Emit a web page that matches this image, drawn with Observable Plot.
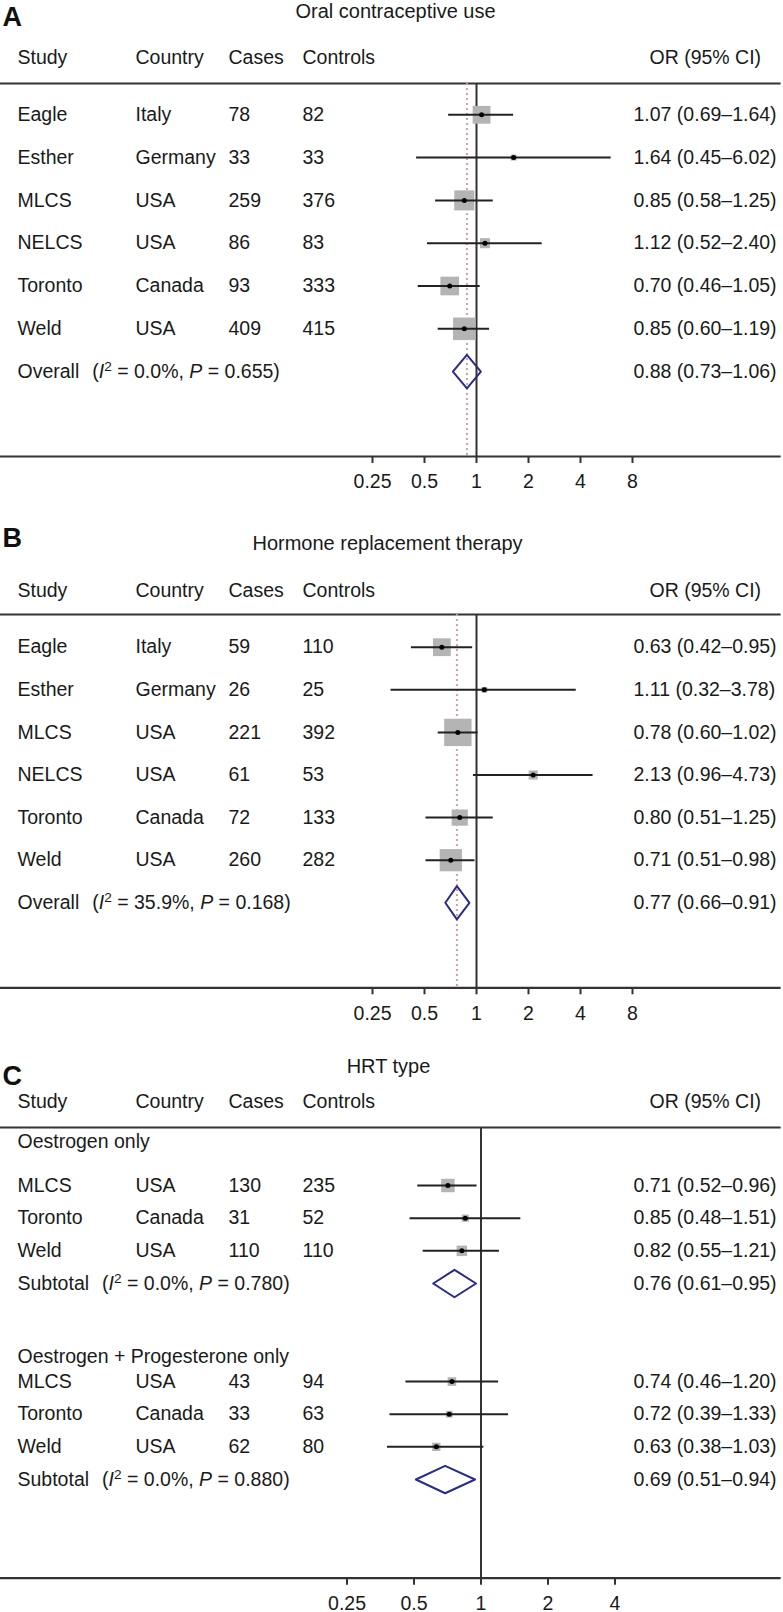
<!DOCTYPE html>
<html><head><meta charset="utf-8">
<script src="https://cdn.jsdelivr.net/npm/d3@7"></script>
<script src="https://cdn.jsdelivr.net/npm/@observablehq/plot@0.6"></script>
<style>
html,body{margin:0;padding:0;background:#fff;overflow:hidden;}
#chart svg{display:block;}
</style></head><body><div id="chart"></div>
<script>
// ---------- data ----------
const studies = ["Eagle", "Esther", "MLCS", "NELCS", "Toronto", "Weld"];
const countries = ["Italy", "Germany", "USA", "USA", "Canada", "USA"];

// A: Oral contraceptive use
const ocCases = [78, 33, 259, 86, 93, 409];
const ocControls = [82, 33, 376, 83, 333, 415];
const ocOR = [1.07, 1.64, 0.85, 1.12, 0.70, 0.85];
const ocLo = [0.69, 0.45, 0.58, 0.52, 0.46, 0.60];
const ocHi = [1.64, 6.02, 1.25, 2.40, 1.05, 1.19];
const ocPooled = [0.88, 0.73, 1.06];
const ocHet = ["0.0%", "0.655"];

// B: Hormone replacement therapy
const hrtCases = [59, 26, 221, 61, 72, 260];
const hrtControls = [110, 25, 392, 53, 133, 282];
const hrtOR = [0.63, 1.11, 0.78, 2.13, 0.80, 0.71];
const hrtLo = [0.42, 0.32, 0.60, 0.96, 0.51, 0.51];
const hrtHi = [0.95, 3.78, 1.02, 4.73, 1.25, 0.98];
const hrtPooled = [0.77, 0.66, 0.91];
const hrtHet = ["35.9%", "0.168"];

// C: HRT type
const typeGroups = ["Oestrogen only", "Oestrogen + Progesterone only"];
const typeStudies = ["MLCS", "Toronto", "Weld"];
const typeCountries = ["USA", "Canada", "USA"];
const eoCases = [130, 31, 110];
const eoControls = [235, 52, 110];
const eoOR = [0.71, 0.85, 0.82];
const eoLo = [0.52, 0.48, 0.55];
const eoHi = [0.96, 1.51, 1.21];
const eoPooled = [0.76, 0.61, 0.95];
const eoHet = ["0.0%", "0.780"];
const epCases = [43, 33, 62];
const epControls = [94, 63, 80];
const epOR = [0.74, 0.72, 0.63];
const epLo = [0.46, 0.39, 0.38];
const epHi = [1.20, 1.33, 1.03];
const epPooled = [0.69, 0.51, 0.94];
const epHet = ["0.0%", "0.880"];

const ticksAB = [0.25, 0.5, 1, 2, 4, 8];
const ticksC = [0.25, 0.5, 1, 2, 4];

// ---------- styling ----------
const LINE = "#333", TEXT = "#1a1a1a", BOX = "#b4b4b4", DOTC = "#c9a1a9", NAVY = "#2c2c80";
const FONT = "'Liberation Sans', Arial, Helvetica, sans-serif";
const COL = {study: 17, country: 135, cases: 228, controls: 302, or: 633, orHead: 649};
const Z = 1.959964;

function studyRows(names, ctry, cases, controls, or, lo, hi, start) {
  return names.map((s, i) => ({
    row: start + i, label: s, country: ctry[i], cases: String(cases[i]), controls: String(controls[i]),
    or: or[i], lo: lo[i], hi: hi[i],
    w: 1 / ((Math.log(hi[i]) - Math.log(lo[i])) / (2 * Z)) ** 2
  }));
}
function pooledRow(name, est, het, row) {
  return {row, name, or: est[0], lo: est[1], hi: est[2], i2: het[0], p: het[1],
          label: `${name}  (I2 = ${het[0]}, P = ${het[1]})`};
}
const fmt = d => `${d.or.toFixed(2)} (${d.lo.toFixed(2)}–${d.hi.toFixed(2)})`;

function enrich(svg, pooled) {
  d3.select(svg).selectAll("text").each(function () {
    const t = this.textContent;
    const r = pooled.find(p => p.label === t);
    if (!r) return;
    const s = d3.select(this);
    s.text(null);
    s.append("tspan").text(r.name);
    s.append("tspan").attr("dx", 13).text("(");
    s.append("tspan").attr("font-style", "italic").text("I");
    s.append("tspan").attr("dy", -7).attr("font-size", "70%").text("2");
    s.append("tspan").attr("dy", 7).text(` = ${r.i2}, `);
    s.append("tspan").attr("font-style", "italic").text("P");
    s.append("tspan").text(` = ${r.p})`);
  });
}

function panel(o) {
  const d0 = o.ticks[0], d1 = o.ticks[o.ticks.length - 1];
  const xrange = [o.onePx + Math.log2(d0) * o.dbl, o.onePx + Math.log2(d1) * o.dbl];
  const all = [...o.studies, ...o.pooled];
  const diamonds = o.pooled.flatMap((p, i) => [
    {id: i, x: p.lo, y: p.row}, {id: i, x: p.or, y: p.row - o.dh}, {id: i, x: p.hi, y: p.row},
    {id: i, x: p.or, y: p.row + o.dh}, {id: i, x: p.lo, y: p.row}]);
  const left = (data, text, dx) => Plot.text(data, {y: "row", text, frameAnchor: "left", dx, textAnchor: "start", lineAnchor: "middle", fill: TEXT});
  const head = (t, dx) => Plot.text([t], {text: d => d, frameAnchor: "top-left", dx, dy: o.headerDy, textAnchor: "start", lineAnchor: "middle", fill: TEXT});
  const marks = [
    Plot.frame({anchor: "top", stroke: LINE, strokeWidth: 2.2}),
    Plot.frame({anchor: "bottom", stroke: LINE, strokeWidth: 2.2}),
    ...(o.pooledLine != null ? [Plot.ruleX([o.pooledLine], {stroke: DOTC, strokeWidth: 2, strokeDasharray: "2,3"})] : []),
    Plot.ruleX([1], {stroke: LINE, strokeWidth: 2}),
    Plot.axisX({ticks: o.ticks, tickFormat: d => String(d), tickSize: 7, tickPadding: 11, stroke: LINE, strokeWidth: 2, fill: TEXT, label: null}),
    Plot.dot(o.studies, {x: "or", y: "row", r: "w", symbol: "square", fill: BOX}),
    Plot.ruleY(o.studies, {y: "row", x1: "lo", x2: "hi", stroke: "#222", strokeWidth: 2}),
    Plot.dot(o.studies, {x: "or", y: "row", r: 2.5, fill: "#000"}),
    Plot.line(diamonds, {x: "x", y: "y", z: "id", stroke: NAVY, strokeWidth: 2}),
    left([...o.groups, ...all], "label", COL.study),
    left(o.studies, "country", COL.country),
    left(o.studies, "cases", COL.cases),
    left(o.studies, "controls", COL.controls),
    left(all, fmt, COL.or),
    head("Study", COL.study), head("Country", COL.country), head("Cases", COL.cases),
    head("Controls", COL.controls), head("OR (95% CI)", COL.orHead),
    Plot.text([o.title], {text: d => d, frameAnchor: "top-left", dx: o.titleX, dy: o.titleDy, textAnchor: "middle", lineAnchor: "middle", fontSize: 20, fill: TEXT}),
    Plot.text([o.letter], {text: d => d, frameAnchor: "top-left", dx: 2, dy: o.letterDy, textAnchor: "start", lineAnchor: "middle", fontSize: 27, fontWeight: "bold", fill: "#111"})
  ];
  const svg = Plot.plot({
    width: 783, height: o.height,
    marginTop: o.top, marginBottom: o.height - o.axisY, marginLeft: 0, marginRight: 4,
    x: {type: "log", base: 2, domain: [d0, d1], range: xrange},
    y: {type: "linear", domain: [0, 1], range: [o.y0, o.y0 + o.sp], axis: null},
    r: {type: "sqrt", domain: [0, 1], range: [0, o.rK]},
    style: {fontFamily: FONT, fontSize: "19.5px", background: "#fff", color: TEXT, overflow: "visible"},
    marks
  });
  enrich(svg, o.pooled);
  return svg;
}

const chart = document.getElementById("chart");

const aStudies = studyRows(studies, countries, ocCases, ocControls, ocOR, ocLo, ocHi, 0);
chart.appendChild(panel({
  letter: "A", title: "Oral contraceptive use", titleX: 395, titleDy: -72, headerDy: -26, letterDy: -66.5,
  height: 520, top: 83, axisY: 456, y0: 114.3, sp: 42.8, onePx: 476, dbl: 52, ticks: ticksAB,
  studies: aStudies, pooled: [pooledRow("Overall", ocPooled, ocHet, 6)], groups: [],
  pooledLine: ocPooled[0], rK: 2.22, dh: 0.39
}));

const bStudies = studyRows(studies, countries, hrtCases, hrtControls, hrtOR, hrtLo, hrtHi, 0);
chart.appendChild(panel({
  letter: "B", title: "Hormone replacement therapy", titleX: 387, titleDy: -71, headerDy: -24, letterDy: -76,
  height: 530, top: 94, axisY: 467.3, y0: 126.7, sp: 42.6, onePx: 476, dbl: 52, ticks: ticksAB,
  studies: bStudies, pooled: [pooledRow("Overall", hrtPooled, hrtHet, 6)], groups: [],
  pooledLine: hrtPooled[0], rK: 2.09, dh: 0.39
}));

const cStudies = [
  ...studyRows(typeStudies, typeCountries, eoCases, eoControls, eoOR, eoLo, eoHi, 0),
  ...studyRows(typeStudies, typeCountries, epCases, epControls, epOR, epLo, epHi, 6)
];
chart.appendChild(panel({
  letter: "C", title: "HRT type", titleX: 388, titleDy: -61, headerDy: -26, letterDy: -51,
  height: 562, top: 77, axisY: 527.7, y0: 135, sp: 32.67, onePx: 480.5, dbl: 67, ticks: ticksC,
  studies: cStudies,
  pooled: [pooledRow("Subtotal", eoPooled, eoHet, 3), pooledRow("Subtotal", epPooled, epHet, 9)],
  groups: [{row: -1.33, label: typeGroups[0]}, {row: 5.25, label: typeGroups[1]}],
  pooledLine: null, rK: 1.19, dh: 0.42
}));
</script></body></html>
